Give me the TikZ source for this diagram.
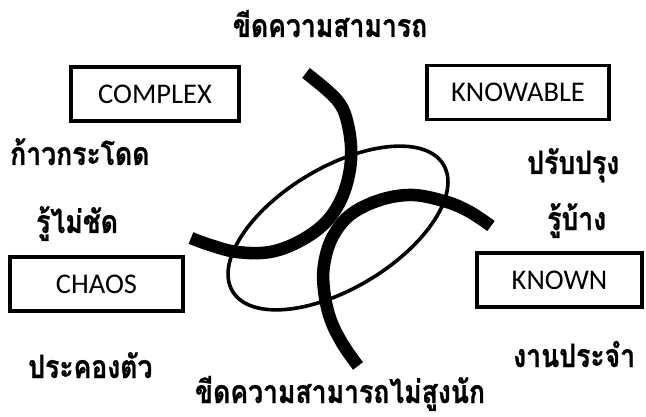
\documentclass[tikz,border=0pt]{standalone}
\usepackage{fontspec}
\setmainfont{Carlito}
\newfontfamily\thaifont[Script=Thai, FakeStretch=0.83, FakeBold=0.8]{Loma}
\begin{document}
\begin{tikzpicture}[x=1pt,y=-1pt,
  domainbox/.style={draw=black, line width=3.8pt, minimum width=168pt, minimum height=54pt,
    inner sep=0pt, font=\fontsize{28.5}{32}\selectfont},
  thai/.style={inner sep=0pt, font=\thaifont\bfseries\fontsize{32}{35}\selectfont},
  thickarc/.style={line width=12.5pt, line cap=butt},
  thinring/.style={line width=3.6pt}]
\useasboundingbox (0,0) rectangle (646,417);
% boxes
\node[domainbox] (complex) at (155,94) {COMPLEX};
\node[domainbox, minimum width=182pt] (knowable) at (518,92.5) {KNOWABLE};
\node[domainbox, minimum width=173pt] (chaos) at (96.5,284) {CHAOS};
\node[domainbox, minimum width=165pt] (known) at (559.5,280) {KNOWN};
% Thai labels
\node[thai, anchor=base] (top) at (330,37) {ขีดความสามารถ};
\node[thai, anchor=base west] (leap) at (10,165) {ก้าวกระโดด};
\node[thai, anchor=base west] (unclear) at (36,233) {รู้ไม่ชัด};
\node[thai, anchor=base west] (improve) at (527,174) {ปรับปรุง};
\node[thai, anchor=base west] (some) at (547,230) {รู้บ้าง};
\node[thai, anchor=base west] (survive) at (28,378) {ประคองตัว};
\node[thai, anchor=base west] (routine) at (513,367) {งานประจำ};
\node[thai, anchor=base] (bottom) at (340,403) {ขีดความสามารถไม่สูงนัก};
% curves
\draw[thinring, rotate around={31:(338,228)}] (338,228) ellipse [x radius=123pt, y radius=60.5pt];
\draw[thickarc] plot[smooth, tension=0.6] coordinates {(306,73) (337,100) (348,125) (351,160) (343,195) (326,222) (300,241) (270,252) (237,252) (210,245) (191,238)};
\draw[thickarc] plot[smooth, tension=0.6] coordinates {(491,226) (470,212) (447,202) (413,195) (380,200) (350,215) (332,238) (324,265) (324,290) (330,318) (342,343) (358,366)};
\end{tikzpicture}
\end{document}
